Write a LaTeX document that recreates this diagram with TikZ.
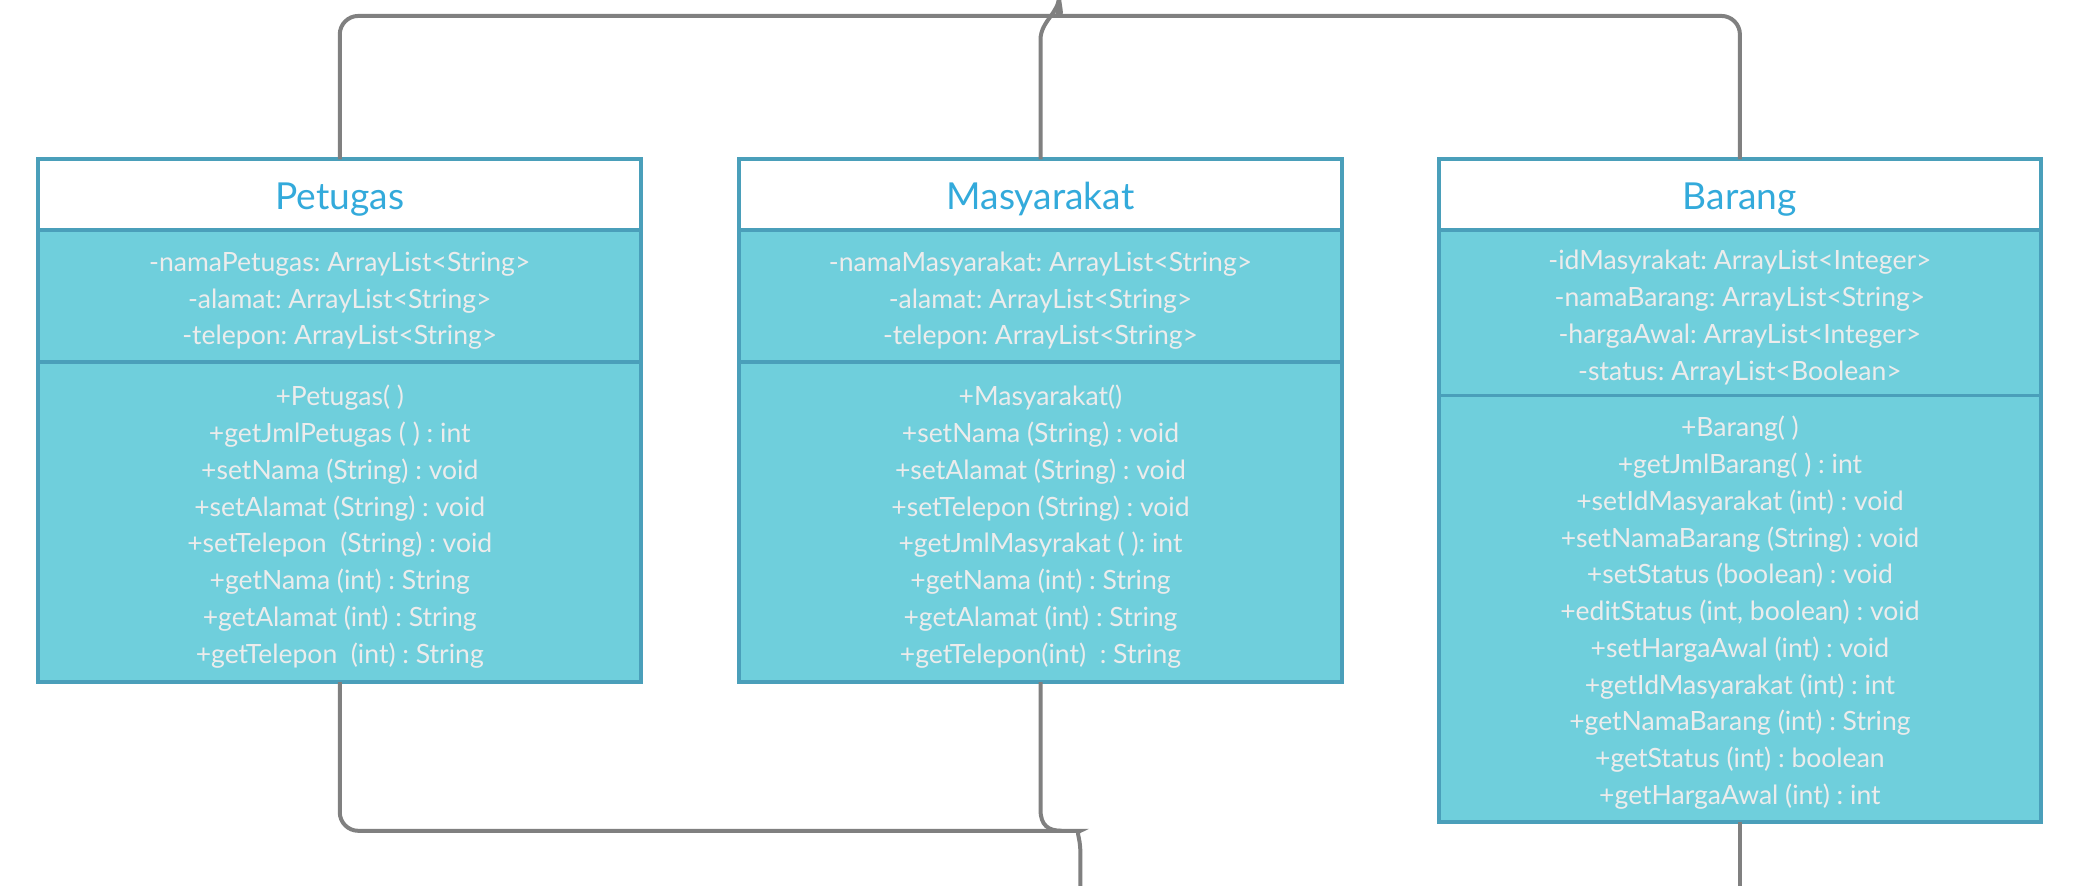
\documentclass[tikz,border=0pt]{standalone}
\usepackage{fontspec}
\setmainfont{Lato}
\usetikzlibrary{positioning}
\definecolor{umlfill}{HTML}{6FCFDC}
\definecolor{umlline}{HTML}{4A9FBA}
\definecolor{umltitle}{HTML}{33AADB}
\definecolor{umltext}{HTML}{ECECEC}
\definecolor{wiregray}{HTML}{808080}
\frenchspacing
% taller first line, pushes the text a bit down
\newcommand{\firstline}{\rule{0pt}{22pt}}

\begin{document}
\begin{tikzpicture}[x=1pt,y=-1pt,
	classtitle/.style={draw=umlline, line width=3pt, fill=white, text=umltitle, minimum width=454pt, minimum height=53pt, inner sep=0pt, outer sep=0pt, font=\fontsize{28}{30}\selectfont},
	classbody/.style={draw=umlline, line width=3pt, fill=umlfill, text=umltext, minimum width=454pt, inner sep=0pt, outer sep=0pt, align=center, font=\fontsize{20}{27.7}\selectfont},
	wire/.style={draw=wiregray, line width=3pt, rounded corners=14pt}]

	\useasboundingbox (0,0) rectangle (1568,667);
	\fill[white] (0,0) rectangle (1568,667);
	\clip (0,0) rectangle (1568,667);

	% class Petugas
	\node[classtitle, anchor=north] (petT) at (256,120) {\rule{0pt}{28pt}Petugas};
	\node[classbody, minimum height=100pt, below=0pt of petT] (petA) {\firstline-namaPetugas: ArrayList<String>\\-alamat: ArrayList<String>\\-telepon: ArrayList<String>};
	\node[classbody, minimum height=241pt, below=0pt of petA] (petM) {\firstline+Petugas( )\\+getJmlPetugas ( ) : int\\+setNama (String) : void\\+setAlamat (String) : void\\+setTelepon~ (String) : void\\+getNama (int) : String\\+getAlamat (int) : String\\+getTelepon~ (int) : String};

	% class Masyarakat
	\node[classtitle, anchor=north] (masT) at (784,120) {\rule{0pt}{28pt}Masyarakat};
	\node[classbody, minimum height=100pt, below=0pt of masT] (masA) {\firstline-namaMasyarakat: ArrayList<String>\\-alamat: ArrayList<String>\\-telepon: ArrayList<String>};
	\node[classbody, minimum height=241pt, below=0pt of masA] (masM) {\firstline+Masyarakat()\\+setNama (String) : void\\+setAlamat (String) : void\\+setTelepon (String) : void\\+getJmlMasyrakat ( ): int\\+getNama (int) : String\\+getAlamat (int) : String\\+getTelepon(int)~ : String};

	% class Barang
	\node[classtitle, anchor=north] (barT) at (1311,120) {\rule{0pt}{28pt}Barang};
	\node[classbody, minimum height=125pt, below=0pt of barT] (barA) {\firstline-idMasyrakat: ArrayList<Integer>\\-namaBarang: ArrayList<String>\\-hargaAwal: ArrayList<Integer>\\-status: ArrayList<Boolean>};
	\node[classbody, minimum height=321pt, below=0pt of barA] (barM) {\firstline+Barang( )\\+getJmlBarang( ) : int\\+setIdMasyarakat (int) : void\\+setNamaBarang (String) : void\\+setStatus (boolean) : void\\+editStatus (int, boolean) : void\\+setHargaAwal (int) : void\\+getIdMasyarakat (int) : int\\+getNamaBarang (int) : String\\+getStatus (int) : boolean\\+getHargaAwal (int) : int};

	\coordinate (topHub) at (798,-3);
	\coordinate (botHub) at (814,642);
	\coordinate (botEnd) at (814,700);
	\coordinate (barEnd) at (1311,700);

	% lines to the top
	\draw[wire] (petT.north) |- (786,12) [sharp corners] .. controls (794,12) and (798,6) .. (topHub) -- ++(0,-30);
	\draw[wire] (barT.north) |- (810,12) [sharp corners] .. controls (802,12) and (798,6) .. (topHub);
	\draw[wire, sharp corners] (masT.north) -- (784,30) .. controls (784,16) and (798,10) .. (topHub);

	% lines to the bottom
	\draw[wire] (petM.south) |- (800,626) [sharp corners] .. controls (810,626) and (814,630) .. (botHub) -- (botEnd);
	\draw[wire, sharp corners] (masM.south) -- (784,610) .. controls (784,622) and (790,626) .. (800,626);
	\draw[wire] (barM.south) -- (barEnd);

\end{tikzpicture}
\end{document}
